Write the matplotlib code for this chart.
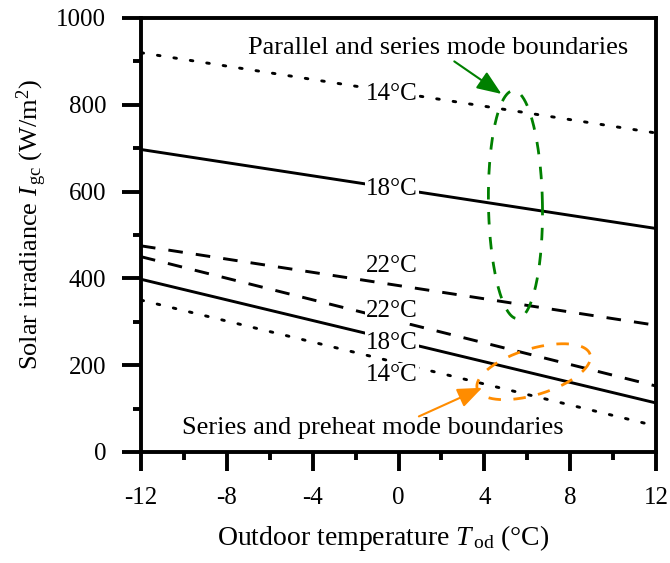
import numpy as np
import matplotlib
matplotlib.use("Agg")
import matplotlib.pyplot as plt
from matplotlib.ticker import MultipleLocator

plt.rcParams['font.family'] = ['Liberation Serif', 'DejaVu Serif']
plt.rcParams['mathtext.fontset'] = 'custom'
plt.rcParams['mathtext.rm'] = 'Liberation Serif'
plt.rcParams['mathtext.it'] = 'Liberation Serif:italic'
plt.rcParams['axes.unicode_minus'] = False

# ---- data ----
x_ends = [-12, 12]
upper_14 = [920, 735]
upper_18 = [697, 515]
upper_22 = [475, 292]
lower_22 = [450, 152]
lower_18 = [398, 113]
lower_14 = [350, 60]

line_labels = ["14°C", "18°C", "22°C", "22°C", "18°C", "14°C"]
label_x = [-0.3, -0.3, -0.3, -0.3, -0.3, -0.3]
label_y = [825, 605, 428, 325, 252, 178]

x_ticks = [-12, -8, -4, 0, 4, 8, 12]
y_ticks = [0, 200, 400, 600, 800, 1000]

fig = plt.figure(figsize=(6.7, 5.63), dpi=100)
ax = fig.add_axes([141/670, 1-452/563, 515/670, 434/563])

lw = 2.1
dot = dict(dashes=(0.9, 4.8), dash_capstyle='round')
dsh = dict(dashes=(5, 4.5))
ax.plot(x_ends, upper_14, color='black', lw=lw, **dot)
ax.plot(x_ends, upper_18, color='black', lw=lw)
ax.plot(x_ends, upper_22, color='black', lw=lw, **dsh)
ax.plot(x_ends, lower_22, color='black', lw=lw, **dsh)
ax.plot(x_ends, lower_18, color='black', lw=lw)
ax.plot(x_ends, lower_14, color='black', lw=lw, **dot)

for t, lx, ly in zip(line_labels, label_x, label_y):
    ax.text(lx, ly, t, fontsize=18, ha='center', va='center', zorder=5,
            bbox=dict(facecolor='white', edgecolor='none', pad=0.5))

# boundary ellipses (annotation shapes), defined via center / semi-axes in pixel-like units
def ellipse_curve(cx, cy, a_px, b_px, ang_deg):
    t = np.linspace(0, 2*np.pi, 300)
    th = np.deg2rad(ang_deg)
    dx = a_px*np.cos(t)*np.cos(th) - b_px*np.sin(t)*np.sin(th)
    dy = a_px*np.cos(t)*np.sin(th) + b_px*np.sin(t)*np.cos(th)
    sx = 515/24.0
    sy = 434/1000.0
    return cx + dx/sx, cy + dy/sy

gx, gy = ellipse_curve(5.45, 570, 27, 114, 1.0)
ax.plot(gx, gy, color='#008000', lw=2.0, dashes=(4.5, 4.5))
ox, oy = ellipse_curve(6.3, 185, 59, 23, 17)
ax.plot(ox, oy, color='#FF8C00', lw=2.0, dashes=(4.5, 4.5))

ax.annotate("", xy=(4.8, 825), xytext=(2.6, 900),
            arrowprops=dict(arrowstyle='-|>,head_length=1.5,head_width=0.6',
                            color='#008000', lw=1.5, shrinkA=0, shrinkB=0))
ax.text(1.85, 930, "Parallel and series mode boundaries", fontsize=19,
        ha='center', va='center')
ax.annotate("", xy=(3.9, 148), xytext=(0.95, 82),
            arrowprops=dict(arrowstyle='-|>,head_length=1.5,head_width=0.6',
                            color='#FF8C00', lw=1.5, shrinkA=0, shrinkB=0))
ax.text(-1.2, 55, "Series and preheat mode boundaries", fontsize=19,
        ha='center', va='center')

ax.set_xlim(-12, 12)
ax.set_ylim(0, 1000)
ax.set_xticks(x_ticks)
ax.set_yticks(y_ticks)
ax.xaxis.set_minor_locator(MultipleLocator(2))
ax.yaxis.set_minor_locator(MultipleLocator(100))
ax.tick_params(which='major', direction='out', length=14, width=2.8,
               labelsize=18, pad=11, top=False, right=False)
ax.tick_params(which='minor', direction='out', length=6, width=2.8,
               top=False, right=False)
for s in ax.spines.values():
    s.set_linewidth(2.8)

ax.set_xlabel("Outdoor temperature $T_{\\,\\rm od}$ (°C)", fontsize=20)
ax.set_ylabel("Solar irradiance $I_{\\,\\rm gc}$ (W/m$^2$)", fontsize=19)
ax.xaxis.set_label_coords(0.47, -0.163)
ax.yaxis.set_label_coords(-0.178, 0.525)

fig.savefig("out.png", dpi=100)
